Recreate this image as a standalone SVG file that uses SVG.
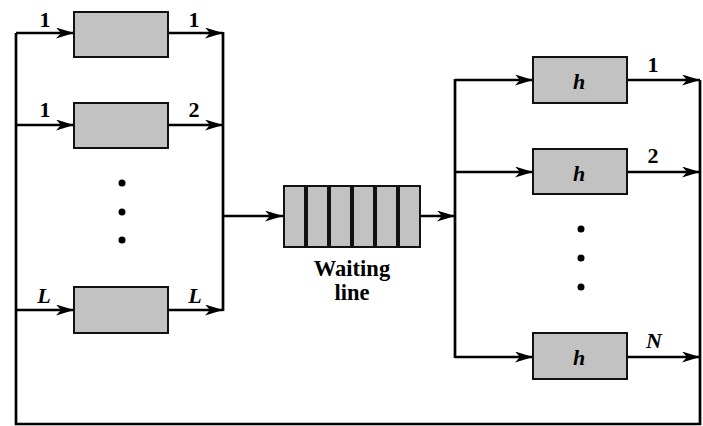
<svg xmlns="http://www.w3.org/2000/svg" width="703" height="426" viewBox="0 0 703 426">
<defs>
<marker id="arr" markerWidth="18" markerHeight="11" refX="18" refY="5.5" orient="auto" markerUnits="userSpaceOnUse">
<path d="M0,0 L18,5.5 L0,11 L5,5.5 Z" fill="#000"/>
</marker>
<style>
.box{fill:#c2c2c2;stroke:#111;stroke-width:2}
.ln{fill:none;stroke:#000;stroke-width:2.7}
.lbl{font-family:"Liberation Serif","Times New Roman",serif;font-weight:bold;font-size:22px;fill:#000}
.big{font-size:22.5px}
.it{font-style:italic}
.dot{fill:#000}
</style>
</defs>
<rect width="703" height="426" fill="#fff"/>
<g id="connectors">
<polyline class="ln" points="700,80 700,424 16,424 16,33"/>
<line class="ln" x1="16" y1="33" x2="74" y2="33" marker-end="url(#arr)"/>
<line class="ln" x1="16" y1="125" x2="74" y2="125" marker-end="url(#arr)"/>
<line class="ln" x1="16" y1="310" x2="74" y2="310" marker-end="url(#arr)"/>
<line class="ln" x1="168" y1="33" x2="223" y2="33" marker-end="url(#arr)"/>
<line class="ln" x1="168" y1="125" x2="223" y2="125" marker-end="url(#arr)"/>
<line class="ln" x1="168" y1="310" x2="223" y2="310" marker-end="url(#arr)"/>
<line class="ln" x1="223" y1="32" x2="223" y2="311"/>
<line class="ln" x1="223" y1="216" x2="283" y2="216" marker-end="url(#arr)"/>
<line class="ln" x1="421" y1="216" x2="455" y2="216" marker-end="url(#arr)"/>
<line class="ln" x1="455" y1="79" x2="455" y2="358"/>
<line class="ln" x1="455" y1="80" x2="533" y2="80" marker-end="url(#arr)"/>
<line class="ln" x1="455" y1="172" x2="533" y2="172" marker-end="url(#arr)"/>
<line class="ln" x1="455" y1="357" x2="533" y2="357" marker-end="url(#arr)"/>
<line class="ln" x1="627" y1="80" x2="700" y2="80" marker-end="url(#arr)"/>
<line class="ln" x1="627" y1="172" x2="700" y2="172" marker-end="url(#arr)"/>
<line class="ln" x1="627" y1="357" x2="700" y2="357" marker-end="url(#arr)"/>
</g>
<g id="server1"><rect class="box" x="74" y="12" width="94" height="45"/></g>
<g id="server2"><rect class="box" x="74" y="103" width="94" height="45"/></g>
<g id="serverL"><rect class="box" x="74" y="287" width="94" height="46"/></g>
<g id="leftdots"><circle class="dot" cx="122" cy="183" r="3.5"/><circle class="dot" cx="122" cy="212" r="3.5"/><circle class="dot" cx="122" cy="240" r="3.5"/></g>
<g id="leftlabels">
<text class="lbl" x="45" y="27" text-anchor="middle">1</text>
<text class="lbl" x="194" y="27" text-anchor="middle">1</text>
<text class="lbl" x="45" y="117" text-anchor="middle">1</text>
<text class="lbl" x="194" y="117" text-anchor="middle">2</text>
<text class="lbl it" x="44" y="303" text-anchor="middle">L</text>
<text class="lbl it" x="195" y="303" text-anchor="middle">L</text>
</g>
<g id="queue">
<rect class="box" x="284" y="186" width="21" height="61"/>
<rect class="box" x="307" y="186" width="21" height="61"/>
<rect class="box" x="330" y="186" width="21" height="61"/>
<rect class="box" x="353" y="186" width="21" height="61"/>
<rect class="box" x="376" y="186" width="21" height="61"/>
<rect class="box" x="399" y="186" width="21" height="61"/>
<text class="lbl big" x="352" y="276" text-anchor="middle">Waiting</text>
<text class="lbl big" x="352" y="300" text-anchor="middle">line</text>
</g>
<g id="h1"><rect class="box" x="533" y="57" width="94" height="46"/><text class="lbl it" x="579" y="89" text-anchor="middle">h</text></g>
<g id="h2"><rect class="box" x="533" y="149" width="94" height="45"/><text class="lbl it" x="579" y="181" text-anchor="middle">h</text></g>
<g id="hN"><rect class="box" x="533" y="333" width="94" height="46"/><text class="lbl it" x="579" y="365" text-anchor="middle">h</text></g>
<g id="rightdots"><circle class="dot" cx="581" cy="229" r="3.5"/><circle class="dot" cx="581" cy="258" r="3.5"/><circle class="dot" cx="581" cy="287" r="3.5"/></g>
<g id="rightlabels">
<text class="lbl" x="653" y="72" text-anchor="middle">1</text>
<text class="lbl" x="653" y="163" text-anchor="middle">2</text>
<text class="lbl it" x="654" y="348" text-anchor="middle">N</text>
</g>
</svg>
